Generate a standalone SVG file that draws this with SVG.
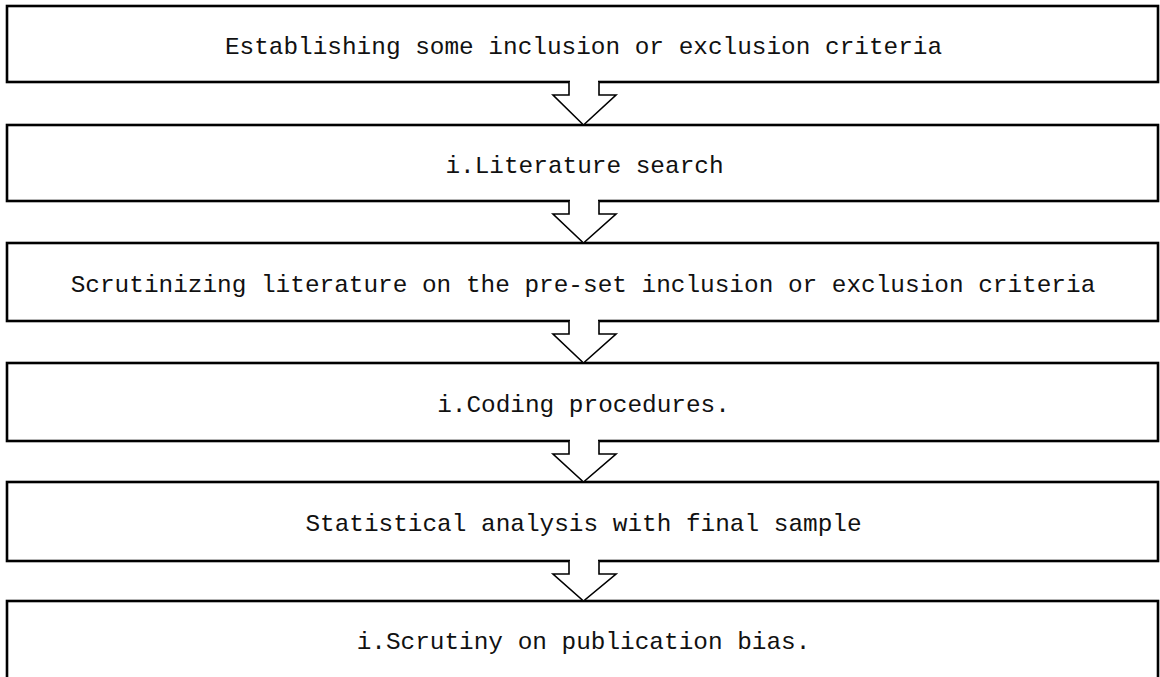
<svg xmlns="http://www.w3.org/2000/svg" width="1160" height="677" viewBox="0 0 1160 677">
<style>
.box{fill:#fff;stroke:#000;stroke-width:2.6}
.lbl{font-family:"Liberation Mono","DejaVu Sans Mono",monospace;font-size:24.4px;fill:#111;text-anchor:middle}
.cover{fill:#fff;stroke:none}
.arr{fill:#fff;stroke:#000;stroke-width:1.6;stroke-linejoin:miter}
</style>
<rect width="1160" height="677" fill="#fff"/>
<g id="n1"><rect class="box" x="7" y="6" width="1151" height="76"/><text class="lbl" x="583.5" y="54">Establishing some inclusion or exclusion criteria</text></g>
<g id="n2"><rect class="box" x="7" y="125" width="1151" height="76"/><text class="lbl" x="584.5" y="173">i.Literature search</text></g>
<g id="n3"><rect class="box" x="7" y="243" width="1151" height="78"/><text class="lbl" x="583" y="292">Scrutinizing literature on the pre-set inclusion or exclusion criteria</text></g>
<g id="n4"><rect class="box" x="7" y="363" width="1151" height="78"/><text class="lbl" x="583.5" y="412">i.Coding procedures.</text></g>
<g id="n5"><rect class="box" x="7" y="482" width="1151" height="79"/><text class="lbl" x="583.5" y="531">Statistical analysis with final sample</text></g>
<g id="n6"><rect class="box" x="7" y="601" width="1151" height="100"/><text class="lbl" x="583.5" y="649">i.Scrutiny on publication bias.</text></g>
<g id="connectors">
<g><rect class="cover" x="570" y="79" width="28" height="10"/><path class="arr" d="M569,82 V95 H553 L583.5,125 L616,95 H599 V82"/></g>
<g><rect class="cover" x="570" y="198" width="28" height="10"/><path class="arr" d="M569,201 V214 H553 L583.5,243 L616,214 H599 V201"/></g>
<g><rect class="cover" x="570" y="318" width="28" height="10"/><path class="arr" d="M569,321 V334 H553 L583.5,363 L616,334 H599 V321"/></g>
<g><rect class="cover" x="570" y="438" width="28" height="10"/><path class="arr" d="M569,441 V454 H553 L583.5,482 L616,454 H599 V441"/></g>
<g><rect class="cover" x="570" y="558" width="28" height="10"/><path class="arr" d="M569,561 V574 H553 L583.5,601 L616,574 H599 V561"/></g>
</g>
</svg>
